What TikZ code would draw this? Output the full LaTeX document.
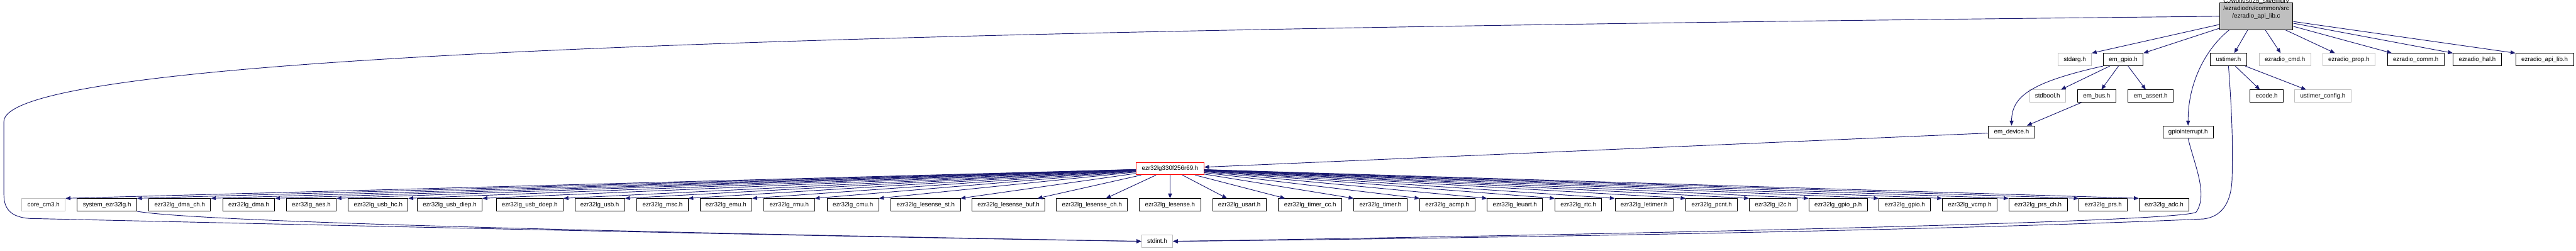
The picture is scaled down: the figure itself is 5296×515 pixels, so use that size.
\documentclass[tikz,border=0pt]{standalone}
\usepackage{fontspec}
\setmainfont{Liberation Sans}
\usetikzlibrary{arrows.meta}
\definecolor{edgec}{HTML}{191970}
\definecolor{grayb}{HTML}{BFBFBF}
\begin{document}
\begin{tikzpicture}[x=1pt,y=-1pt,
  base/.style={rectangle,fill=white,line width=1.2pt,inner xsep=11.5pt,inner ysep=0pt,
    minimum height=25.5pt,font=\fontsize{12.66}{15.5}\selectfont,text height=9.2pt,text depth=2.6pt},
  doc/.style={base,draw=black},
  undoc/.style={base,draw=grayb},
  rootbox/.style={base,draw=black,fill=grayb,align=center,minimum height=55pt,inner xsep=8pt},
  redbox/.style={base,draw=red},
  dep/.style={draw=edgec,line width=1.2pt,-{Triangle[length=10pt,width=8pt]}}
]
\useasboundingbox (0,0) rectangle (5296,515);
% upper part
\node[rootbox] (root) at (4638.5,33.5) {C:/work/s025\_sw/emdrv\\/ezradiodrv/common/src\\/ezradio\_api\_lib.c};
\node[undoc] (stdarg) at (4265.5,122.5) {stdarg.h};
\node[doc] (emgpio) at (4365,122.5) {em\_gpio.h};
\node[doc] (ustimer) at (4581.5,122.5) {ustimer.h};
\node[undoc] (ezcmd) at (4697.5,122.5) {ezradio\_cmd.h};
\node[undoc] (ezprop) at (4829,122.5) {ezradio\_prop.h};
\node[doc] (ezcomm) at (4966.5,122.5) {ezradio\_comm.h};
\node[doc] (ezhal) at (5093,122.5) {ezradio\_hal.h};
\node[doc] (ezapi) at (5231.5,122.5) {ezradio\_api\_lib.h};
\node[undoc] (stdbool) at (4209.5,197.5) {stdbool.h};
\node[doc] (embus) at (4310.5,197.5) {em\_bus.h};
\node[doc] (emassert) at (4421.5,197.5) {em\_assert.h};
\node[doc] (ecode) at (4660,197.5) {ecode.h};
\node[undoc] (ustcfg) at (4775.5,197.5) {ustimer\_config.h};
\node[doc] (emdevice) at (4135.5,271.5) {em\_device.h};
\node[doc] (gpioint) at (4498.5,271.5) {gpiointerrupt.h};
\node[redbox] (part) at (2405.5,346.5) {ezr32lg330f256r69.h};
\node[undoc] (stdint) at (2379,496) {stdint.h};
% bottom row
\node[undoc] (corecm) at (89.5,421) {core\_cm3.h};
\node[doc] (sysezr) at (220,421) {system\_ezr32lg.h};
\node[doc] (dmach) at (369.5,421) {ezr32lg\_dma\_ch.h};
\node[doc] (dma) at (511.5,421) {ezr32lg\_dma.h};
\node[doc] (aes) at (640,421) {ezr32lg\_aes.h};
\node[doc] (usbhc) at (777.5,421) {ezr32lg\_usb\_hc.h};
\node[doc] (usbdiep) at (924.5,421) {ezr32lg\_usb\_diep.h};
\node[doc] (usbdoep) at (1089,421) {ezr32lg\_usb\_doep.h};
\node[doc] (usb) at (1233,421) {ezr32lg\_usb.h};
\node[doc] (msc) at (1362,421) {ezr32lg\_msc.h};
\node[doc] (emu) at (1492.5,421) {ezr32lg\_emu.h};
\node[doc] (rmu) at (1622.5,421) {ezr32lg\_rmu.h};
\node[doc] (cmu) at (1753.5,421) {ezr32lg\_cmu.h};
\node[doc] (lesst) at (1903,421) {ezr32lg\_lesense\_st.h};
\node[doc] (lesbuf) at (2073.5,421) {ezr32lg\_lesense\_buf.h};
\node[doc] (lesch) at (2245,421) {ezr32lg\_lesense\_ch.h};
\node[doc] (les) at (2405.5,421) {ezr32lg\_lesense.h};
\node[doc] (usart) at (2548,421) {ezr32lg\_usart.h};
\node[doc] (timercc) at (2693.5,421) {ezr32lg\_timer\_cc.h};
\node[doc] (timer) at (2838,421) {ezr32lg\_timer.h};
\node[doc] (acmp) at (2975.5,421) {ezr32lg\_acmp.h};
\node[doc] (leuart) at (3114.5,421) {ezr32lg\_leuart.h};
\node[doc] (rtc) at (3245,421) {ezr32lg\_rtc.h};
\node[doc] (letimer) at (3380,421) {ezr32lg\_letimer.h};
\node[doc] (pcnt) at (3519,421) {ezr32lg\_pcnt.h};
\node[doc] (itc) at (3645.5,421) {ezr32lg\_i2c.h};
\node[doc] (gpiop) at (3779,421) {ezr32lg\_gpio\_p.h};
\node[doc] (gpio) at (3916,421) {ezr32lg\_gpio.h};
\node[doc] (vcmp) at (4049.5,421) {ezr32lg\_vcmp.h};
\node[doc] (prsch) at (4190,421) {ezr32lg\_prs\_ch.h};
\node[doc] (prs) at (4324,421) {ezr32lg\_prs.h};
\node[doc] (adc) at (4449,421) {ezr32lg\_adc.h};
% edges from root
\draw[dep] (root.west) .. controls (2000,60) and (8,100) .. (8,250) -- (8,400)
  .. controls (8,432) and (25,446) .. (60,449) .. controls (900,468) and (1800,488) .. (stdint.west);
\draw[dep] (root) -- (stdarg.north east);
\draw[dep] (root) -- (emgpio.north east);
\draw[dep] ([xshift=-55.5pt]root.south) .. controls (4535,100) and (4498,170) .. (gpioint.north);
\draw[dep] ([xshift=-17.5pt]root.south) -- ([xshift=12pt]ustimer.north);
\draw[dep] (root) -- (ezcmd);
\draw[dep] (root) -- (ezprop);
\draw[dep] (root) -- (ezcomm);
\draw[dep] (root) -- (ezhal.north west);
\draw[dep] (root) -- (ezapi.north west);
% em_gpio
\draw[dep] (emgpio.south west) .. controls (4170,170) and (4136,200) .. (emdevice.north);
\draw[dep] (emgpio) -- (stdbool);
\draw[dep] (emgpio) -- (embus);
\draw[dep] (emgpio) -- (emassert);
\draw[dep] (embus) -- (emdevice);
% ustimer
\draw[dep] (ustimer) -- (ecode);
\draw[dep] (ustimer) -- (ustcfg);
\draw[dep] (ustimer.south) .. controls (4590,250) and (4590,300) .. (4589,360)
  .. controls (4589,420) and (4565,446) .. (4530,450) .. controls (4000,474) and (3000,490) .. (stdint.east);
\draw[dep] (gpioint.south) .. controls (4512,340) and (4540,400) .. (4515,436)
  .. controls (4480,458) and (3200,484) .. (stdint.east);
% em_device
\draw[dep] (emdevice) -- (part);
% system -> stdint
\draw[dep] (sysezr.south east) .. controls (400,455) and (1200,476) .. (stdint.west);
% part -> bottom row
\foreach \n in {corecm,sysezr,dmach,dma,aes,usbhc,usbdiep,usbdoep,usb,msc,emu,rmu,cmu,lesst}
  \draw[dep] (part) -- (\n.north east);
\foreach \n in {lesbuf,lesch,les,usart,timercc}
  \draw[dep] (part) -- (\n);
\foreach \n in {timer,acmp,leuart,rtc,letimer,pcnt,itc,gpiop,gpio,vcmp,prsch,prs,adc}
  \draw[dep] (part) -- (\n.north west);
\end{tikzpicture}
\end{document}
